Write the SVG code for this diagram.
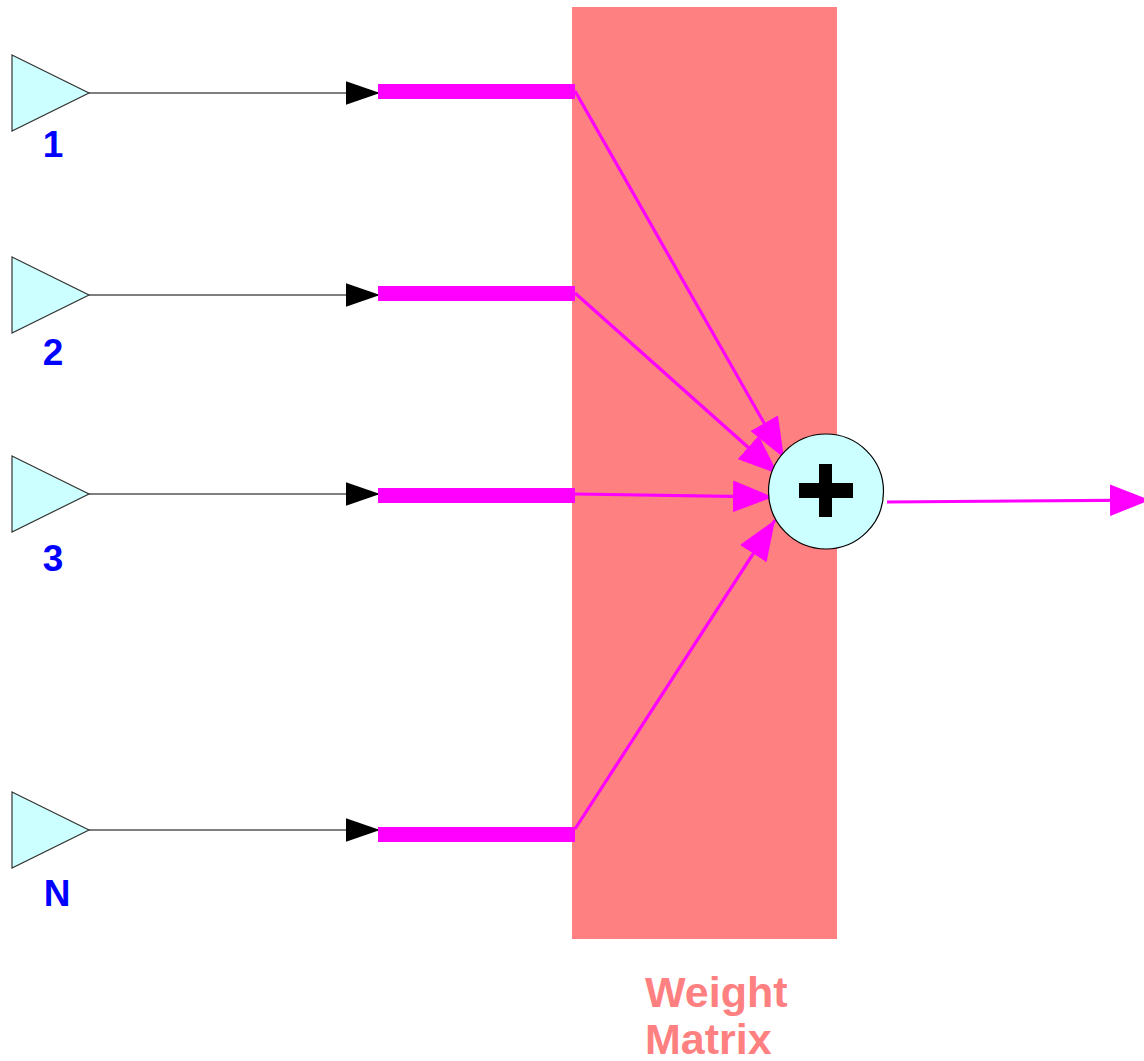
<svg xmlns="http://www.w3.org/2000/svg" width="1144" height="1061" viewBox="0 0 1144 1061">
<style>
.tri{fill:#CCFFFF;stroke:#333;stroke-width:1.2}
.lbl{font-family:"Liberation Sans",Arial,sans-serif;font-weight:bold;font-size:37px;fill:#0000FF;text-anchor:middle}
.wl{font-family:"Liberation Sans",Arial,sans-serif;font-weight:bold;font-size:43px;fill:#FF8080}
.bar{fill:#FF00FF}
.in{stroke:#000;stroke-width:1.2;fill:none;marker-end:url(#ab)}
.mg{stroke:#FF00FF;stroke-width:3.2;fill:none;marker-end:url(#am)}
</style>
<defs>
<marker id="ab" markerUnits="userSpaceOnUse" markerWidth="34" markerHeight="24" viewBox="0 0 32 22" refX="32" refY="11" orient="auto"><path d="M0,0L32,11L0,22Z" fill="#000"/></marker>
<marker id="am" markerUnits="userSpaceOnUse" markerWidth="40" markerHeight="32" viewBox="0 0 38 30" refX="38" refY="15" orient="auto"><path d="M0,0L38,15L0,30Z" fill="#FF00FF"/></marker>
</defs>
<rect id="weight-matrix" x="572" y="7" width="265" height="932" fill="#FF8080"/>
<g id="connectors">
<line class="in" x1="89" y1="93" x2="380" y2="93"/>
<line class="in" x1="89" y1="295" x2="380" y2="295"/>
<line class="in" x1="89" y1="494" x2="380" y2="494"/>
<line class="in" x1="89" y1="830" x2="380" y2="830"/>
<line class="mg" x1="575" y1="91" x2="784" y2="458"/>
<line class="mg" x1="575" y1="293" x2="778" y2="474"/>
<line class="mg" x1="575" y1="494" x2="773" y2="497"/>
<line class="mg" x1="575" y1="829" x2="775" y2="520"/>
<line class="mg" x1="887" y1="502" x2="1150" y2="500"/>
</g>
<g id="bar1"><rect class="bar" x="378" y="84" width="197" height="15"/></g>
<g id="bar2"><rect class="bar" x="378" y="286" width="197" height="15"/></g>
<g id="bar3"><rect class="bar" x="378" y="488" width="197" height="15"/></g>
<g id="barN"><rect class="bar" x="378" y="827" width="197" height="15"/></g>
<g id="input1"><polygon class="tri" points="12,55 89,93 12,131"/><text class="lbl" x="53" y="157">1</text></g>
<g id="input2"><polygon class="tri" points="12,257 89,295 12,333"/><text class="lbl" x="53" y="365">2</text></g>
<g id="input3"><polygon class="tri" points="12,456 89,494 12,532"/><text class="lbl" x="53" y="571">3</text></g>
<g id="inputN"><polygon class="tri" points="12,792 89,830 12,868"/><text class="lbl" x="57" y="906">N</text></g>
<g id="sum">
<circle cx="826" cy="491.5" r="57.5" fill="#CCFFFF" stroke="#000" stroke-width="1.2"/>
<rect x="799" y="483" width="54" height="15" fill="#000"/>
<rect x="819" y="464" width="13" height="53" fill="#000"/>
</g>
<g id="weight-label">
<text class="wl" x="645" y="1007">Weight</text>
<text class="wl" x="645" y="1054">Matrix</text>
</g>
</svg>
